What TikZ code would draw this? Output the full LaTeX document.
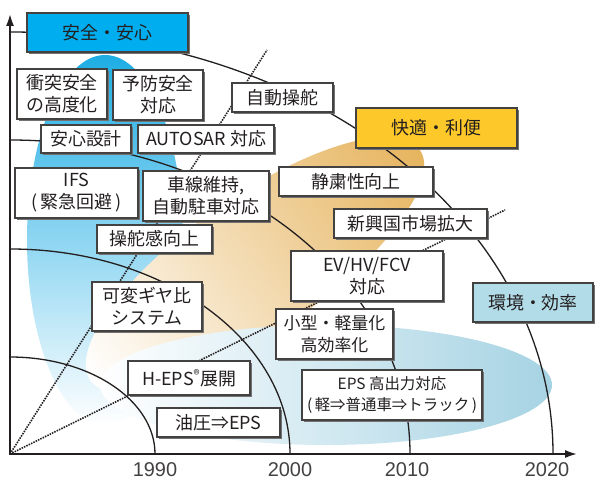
\documentclass[tikz,border=0pt]{standalone}
\usepackage{fontspec}
\setmainfont{Noto Sans CJK JP}
\newfontfamily\yearfont{Liberation Sans}
\usetikzlibrary{shadows,arrows.meta}
\definecolor{txt}{HTML}{231F20}
\definecolor{cyanbox}{HTML}{00AEEF}
\definecolor{yellowbox}{HTML}{FCC82A}
\definecolor{bluebox}{HTML}{B2DCE8}
\definecolor{blobblue}{HTML}{1EADE4}
\definecolor{blobor}{HTML}{E6B45E}
\definecolor{ellblue}{HTML}{A6D3E3}
\begin{document}
\begin{tikzpicture}[x=1bp,y=-1bp,
  box/.style={draw=txt!85, line width=1.1bp, fill=white, text=txt, inner sep=0pt, align=center,
    font=\fontsize{18}{22}\selectfont,
    drop shadow={shadow xshift=1.6bp, shadow yshift=-1.6bp, fill=black!55, opacity=1}},
  arcline/.style={draw=txt, line width=1.3bp},
  dotline/.style={draw=txt, line width=1.6bp, dash pattern=on 1.5bp off 1.1bp},
  yearlbl/.style={font=\yearfont\fontsize{20}{20}\selectfont, text=txt!85, inner sep=0pt}
]
\useasboundingbox (0,0) rectangle (599,480);
\fill[white] (0,0) rectangle (599,480);

% background regions
\shade[top color=blobblue, middle color=blobblue!45, bottom color=white] (105,240) ellipse[x radius=78bp, y radius=185bp];
\begin{scope}[transform canvas={rotate around={35:(255,265)}}]
\shade[left color=white, middle color=blobor!45, right color=blobor] (255,265) ellipse[x radius=201bp, y radius=68bp];
\end{scope}
\shade[left color=white, right color=ellblue] (326,385) ellipse[x radius=226bp, y radius=60bp];

% axes
\coordinate (O) at (10,454);
\draw[line width=2.6bp, txt, {Latex[length=13bp,width=8bp]}-{Latex[length=13bp,width=8bp]}] (10,13) -- (O) -- (578,454);

% arcs
\draw[arcline] (10,357) arc[start angle=90, end angle=0, x radius=145bp, y radius=97bp];
\draw[arcline] (10,249) arc[start angle=90, end angle=0, x radius=280bp, y radius=205bp];
\draw[arcline] (10,140) arc[start angle=90, end angle=0, x radius=400bp, y radius=314bp];
\draw[arcline] (10,32) arc[start angle=90, end angle=0, x radius=543bp, y radius=422bp];

% dotted rays
\coordinate (r1) at (505,210);
\coordinate (r2) at (267,50);
\draw[dotline] (O) -- (r1);
\draw[dotline] (O) -- (r2);

% boxes
\node[box, fill=cyanbox, minimum width=161bp, minimum height=39bp] (safe) at (107.5,32.5) {安全・安心};
\node[box, minimum width=90bp, minimum height=50bp] (shototsu) at (62,94) {衝突安全\\の高度化};
\node[box, minimum width=90bp, minimum height=50bp] (yobou) at (158,95) {予防安全\\対応};
\node[box, minimum width=101bp, minimum height=29bp] (jido) at (282.5,97.5) {自動操舵};
\node[box, minimum width=90bp, minimum height=28bp] (anshin) at (86,139) {安心設計};
\node[box, minimum width=136bp, minimum height=28bp] (autosar) at (206,139) {AUTOSAR 対応};
\node[box, minimum width=123bp, minimum height=50bp] (ifs) at (76.5,193) {IFS\\(\,緊急回避\,)};
\node[box, minimum width=126bp, minimum height=50bp] (shasen) at (206,196) {車線維持,\\自動駐車対応};
\node[box, fill=yellowbox, minimum width=161bp, minimum height=40bp] (kaiteki) at (436.5,128) {快適・利便};
\node[box, minimum width=154bp, minimum height=29bp] (seishuku) at (356,181.5) {静粛性向上};
\node[box, minimum width=153bp, minimum height=29bp] (shinko) at (410.5,223.5) {新興国市場拡大};
\node[box, minimum width=115bp, minimum height=28bp] (sodakan) at (154.5,239) {操舵感向上};
\node[box, minimum width=152bp, minimum height=50bp] (ev) at (367,276) {EV/HV/FCV\\対応};
\node[box, minimum width=110bp, minimum height=49bp] (kahen) at (147,306.5) {可変ギヤ比\\システム};
\node[box, font=\fontsize{17}{22}\selectfont, minimum width=117bp, minimum height=50bp] (kogata) at (334.5,334) {小型・軽量化\\高効率化};
\node[box, fill=bluebox, minimum width=120bp, minimum height=39bp] (kankyo) at (533,302.5) {環境・効率};
\node[box, minimum width=122bp, minimum height=34bp] (heps) at (189,378) {H-EPS\textsuperscript{®}展開};
\node[box, font=\fontsize{15.5}{22}\selectfont, minimum width=180bp, minimum height=50bp] (epshigh) at (392,395) {EPS 高出力対応\\(\,軽⇒普通車⇒トラック\,)};
\node[box, minimum width=123bp, minimum height=29bp] (yuatsu) at (218.5,422.5) {油圧⇒EPS};

% year labels
\node[yearlbl] (y1990) at (155,470) {1990};
\node[yearlbl] (y2000) at (290,470) {2000};
\node[yearlbl] (y2010) at (407,470) {2010};
\node[yearlbl] (y2020) at (547,470) {2020};
\end{tikzpicture}
\end{document}
